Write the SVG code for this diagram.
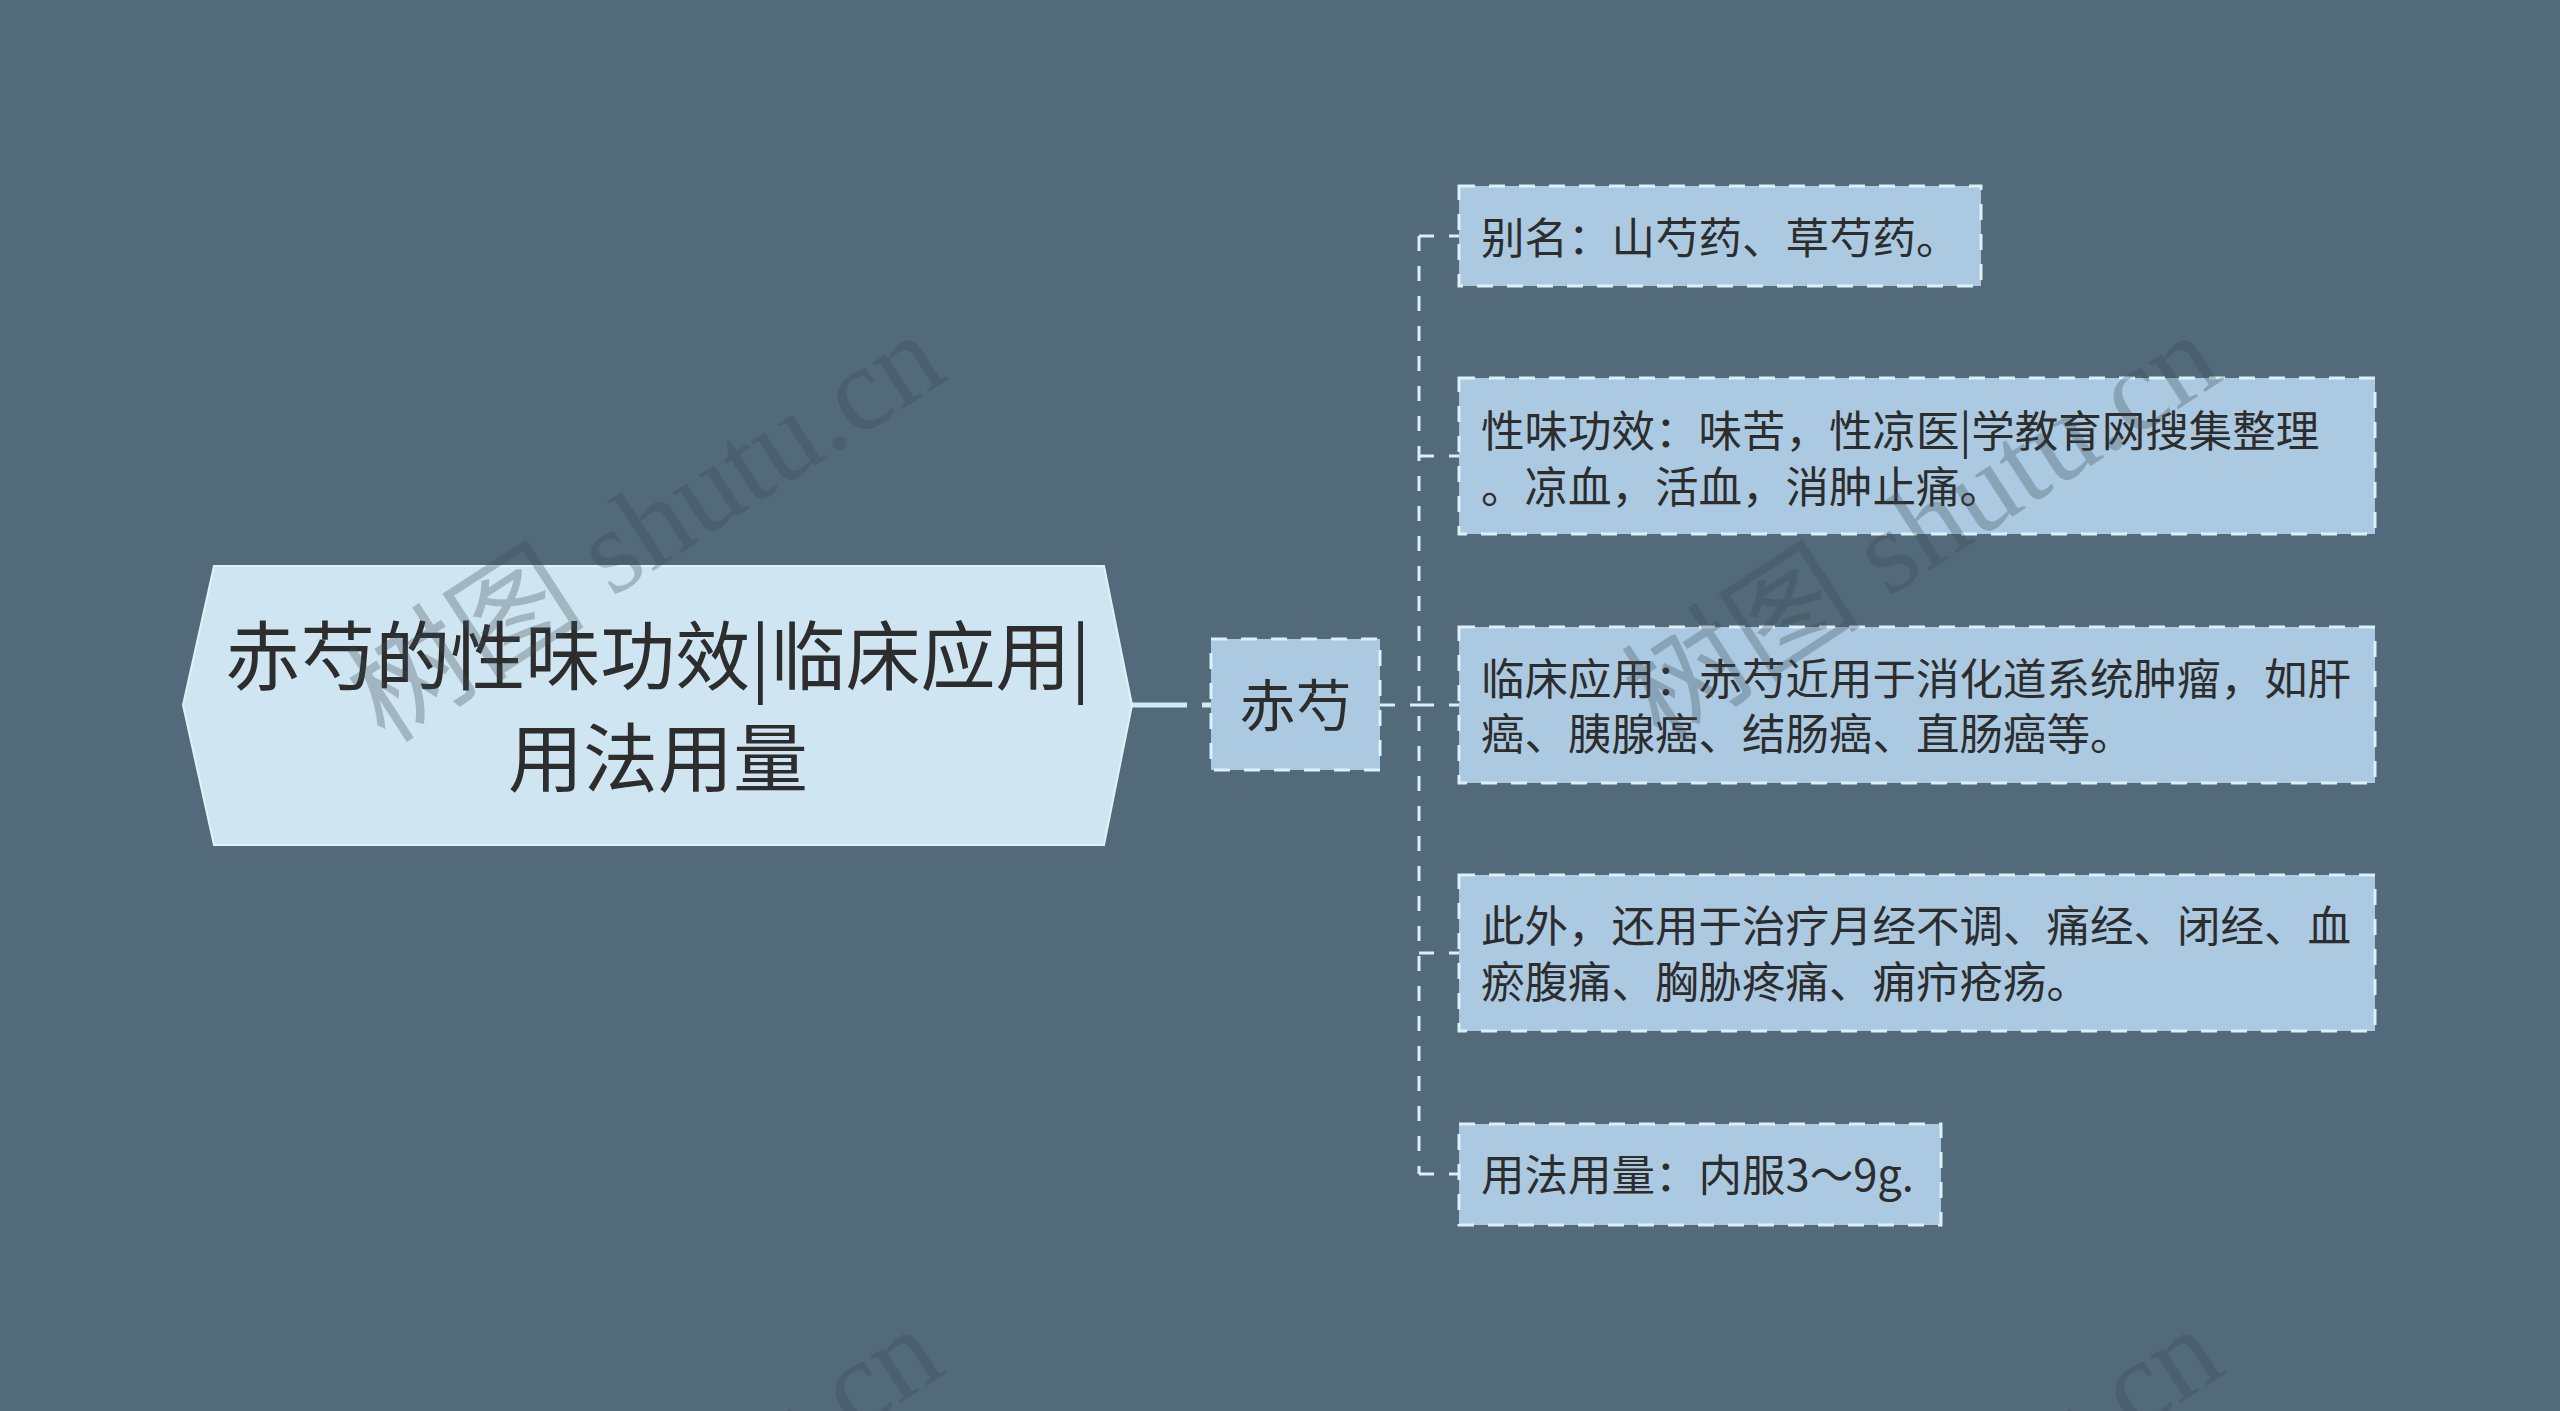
<svg xmlns="http://www.w3.org/2000/svg" width="2560" height="1411" viewBox="0 0 2560 1411">
<style>
.bg{fill:#536a7a}
.root{fill:#cfe5f2;stroke:#e2f1f9;stroke-width:2}
.node{fill:#abcae1;stroke:#ddf0fa;stroke-width:3;stroke-dasharray:16 14}
.t{font-family:"Noto Sans CJK SC","Noto Sans",sans-serif;fill:#2d2d2d}
.rt{font-size:75px}
.mt{font-size:56px}
.lt{font-size:43.5px}
.conn{fill:none;stroke:#dcefF9;stroke-width:3;stroke-dasharray:15 15}
.main{fill:none;stroke:#d2e8f4;stroke-width:5;stroke-dasharray:55 15}
.wm{font-family:"Liberation Serif","Noto Sans CJK SC",serif;font-size:120px;fill:#3c4b55;opacity:0.3}
</style>
<rect class="bg" x="0" y="0" width="2560" height="1411"/>
<g id="connectors">
<path class="main" d="M1132 705 H1211"/>
<path class="conn" d="M1380 705 H1419"/>
<path class="conn" d="M1419 236 V1174"/>
<path class="conn" d="M1419 236 H1459"/>
<path class="conn" d="M1419 456 H1459"/>
<path class="conn" d="M1419 705 H1459"/>
<path class="conn" d="M1419 953 H1459"/>
<path class="conn" d="M1419 1174 H1459"/>
</g>
<g id="root">
<polygon class="root" points="183,705 214,566 1104,566 1132,705 1104,845 214,845"/>
<text class="t rt" x="658" y="684" text-anchor="middle">赤芍的性味功效|临床应用|</text>
<text class="t rt" x="658" y="786" text-anchor="middle">用法用量</text>
</g>
<g id="n-chishao">
<rect class="node" x="1211" y="639" width="169" height="131"/>
<text class="t mt" x="1295.5" y="726" text-anchor="middle">赤芍</text>
</g>
<g id="n-bieming">
<rect class="node" x="1459" y="186" width="522" height="100"/>
<text class="t lt" x="1481" y="253.5">别名：山芍药、草芍药。</text>
</g>
<g id="n-xingwei">
<rect class="node" x="1459" y="378" width="916" height="156"/>
<text class="t lt" x="1481" y="446.5">性味功效：味苦，性凉医|学教育网搜集整理</text>
<text class="t lt" x="1481" y="502.5">。凉血，活血，消肿止痛。</text>
</g>
<g id="n-linchuang">
<rect class="node" x="1459" y="627" width="916" height="156"/>
<text class="t lt" x="1481" y="694.5">临床应用：赤芍近用于消化道系统肿瘤，如肝</text>
<text class="t lt" x="1481" y="750">癌、胰腺癌、结肠癌、直肠癌等。</text>
</g>
<g id="n-ciwai">
<rect class="node" x="1459" y="875" width="916" height="156"/>
<text class="t lt" x="1481" y="942">此外，还用于治疗月经不调、痛经、闭经、血</text>
<text class="t lt" x="1481" y="997.5">瘀腹痛、胸胁疼痛、痈疖疮疡。</text>
</g>
<g id="n-yongfa">
<rect class="node" x="1459" y="1124" width="482" height="101"/>
<text class="t lt" x="1481" y="1191">用法用量：内服3～9g.</text>
</g>
<g id="watermarks">
<text class="wm" text-anchor="end" transform="translate(950 378) rotate(-33)">树图 shutu.cn</text>
<text class="wm" text-anchor="end" transform="translate(2226 378) rotate(-33)">树图 shutu.cn</text>
<text class="wm" text-anchor="end" transform="translate(948 1372) rotate(-33)">树图 shutu.cn</text>
<text class="wm" text-anchor="end" transform="translate(2228 1372) rotate(-33)">树图 shutu.cn</text>
</g>
</svg>
